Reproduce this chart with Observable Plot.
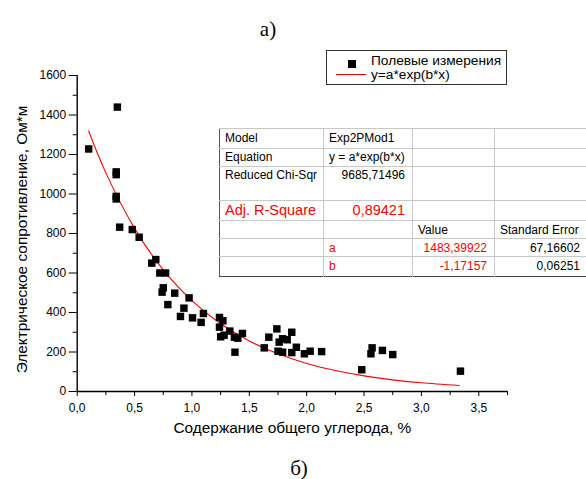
<!DOCTYPE html>
<html><head><meta charset="utf-8">
<script src="https://cdn.jsdelivr.net/npm/d3@7"></script>
<script src="https://cdn.jsdelivr.net/npm/@observablehq/plot@0.6"></script>
<style>
body{margin:0;background:#fff;}
#wrap{position:relative;width:586px;height:479px;overflow:hidden;font-family:"Liberation Sans",Arial,sans-serif;color:#000;}
#plot{position:absolute;left:0;top:40px;}
.cap{position:absolute;font-family:"Liberation Serif","Times New Roman",serif;font-size:21px;line-height:24px;transform:translateX(-50%);white-space:nowrap;}
#legend{position:absolute;left:326px;top:50px;width:179px;height:33px;border:1px solid #333;background:#fff;font-size:13.7px;}
#legend .row{position:absolute;left:44px;white-space:nowrap;}
#legend .sq{position:absolute;left:21px;top:9px;width:8px;height:8px;background:#000;}
#legend .ln{position:absolute;left:9px;top:23px;width:30px;height:0;border-top:1px solid #e00;}
#tbl{position:absolute;left:219px;top:128px;border-collapse:collapse;table-layout:fixed;background:#fff;font-size:12px;border-top:1.5px solid #555;border-left:1.5px solid #555;border-bottom:1.5px solid #444;}
#tbl td{border:1px solid #c8c8c8;padding:0 4px 0 5px;vertical-align:top;white-space:nowrap;overflow:hidden;}
#tbl tr:first-child td{border-top:none;}
#tbl tr:last-child td{border-bottom:none;}
#tbl td:first-child{border-left:none;}
.r{text-align:right;padding-right:7px!important;}
.red{color:#f00;}
</style></head><body><div id="wrap"></div>
<script>
// measured points: carbon content (%) and electrical resistivity (Ohm*m)
const carbon = [0.10,0.35,0.34,0.34,0.34,0.34,0.37,0.48,0.54,0.65,0.685,0.72,0.77,0.75,0.74,0.85,0.79,0.975,0.93,0.90,1.005,1.10,1.08,1.24,1.27,1.24,1.25,1.28,1.33,1.37,1.40,1.44,1.375,1.63,1.67,1.74,1.76,1.79,1.83,1.75,1.79,1.87,1.91,1.87,1.98,2.03,2.13,2.48,2.57,2.56,2.66,2.75,3.34];
const resistance = [1228,1440,1112,1098,988,975,832,820,781,650,668,600,600,525,503,498,440,474,422,380,373,395,350,375,358,326,277,285,306,275,270,294,199,221,275,317,250,267,262,204,199,300,224,197,191,204,202,110,221,191,208,187,103];
// fitted curve y=a*exp(b*x)
const fitX = [0.10,0.25,0.50,0.75,1.00,1.25,1.50,1.75,2.00,2.25,2.50,2.75,3.00,3.33];
const fitY = [1319,1107,826,616,460,343,256,191,142,106,79,59,44,30];
const xTicks = [0,0.5,1,1.5,2,2.5,3,3.5];
const xMinor = [0.25,0.75,1.25,1.75,2.25,2.75,3.25,3.75];
const yTicks = [0,200,400,600,800,1000,1200,1400,1600];
const yMinor = [100,300,500,700,900,1100,1300,1500];
const xLabel = "Содержание общего углерода, %";
const yLabel = "Электрическое сопротивление, Ом*м";
const legendLabels = ["Полевые измерения","y=a*exp(b*x)"];
const tableRows = [
  ["Model","Exp2PMod1","",""],
  ["Equation","y = a*exp(b*x)","",""],
  ["Reduced Chi-Sqr","9685,71496","",""],
  ["Adj. R-Square","0,89421","",""],
  ["","","Value","Standard Error"],
  ["","a","1483,39922","67,16602"],
  ["","b","-1,17157","0,06251"]
];

const pts = carbon.map((c,i)=>({x:c,y:resistance[i]}));
const fit = fitX.map((c,i)=>({x:c,y:fitY[i]}));
const fmtX = d => d.toFixed(1).replace(".",",");
const fmtY = d => String(d);

const chart = Plot.plot({
  width: 586, height: 400,
  marginLeft: 76.7, marginRight: 79, marginTop: 35, marginBottom: 49,
  style: {fontFamily: "'Liberation Sans', Arial, sans-serif", fontSize: "12px", color: "#000", background: "transparent"},
  x: {domain: [0, 3.75]},
  y: {domain: [0, 1600]},
  marks: [
    Plot.axisX(xTicks, {tickFormat: fmtX, tickSize: 5, tickPadding: 7, label: null, stroke: "#000", fontSize: 12}),
    Plot.axisX(xMinor, {text: null, tickSize: 4, label: null, stroke: "#000"}),
    Plot.axisY(yTicks, {tickFormat: fmtY, tickSize: 8, tickPadding: 3, label: null, stroke: "#000", fontSize: 12}),
    Plot.axisY(yMinor, {text: null, tickSize: 4, label: null, stroke: "#000"}),
    Plot.ruleX([0], {y1: 0, y2: 1600, stroke: "#000", strokeWidth: 1.4}),
    Plot.ruleY([0], {x1: 0, x2: 3.75, stroke: "#000", strokeWidth: 1.4}),
    Plot.line(fit, {x: "x", y: "y", stroke: "#f00", strokeWidth: 1.1, curve: "natural"}),
    Plot.dot(pts, {x: "x", y: "y", symbol: "square", r: 4.2, fill: "#000", stroke: "none"}),
    Plot.text([xLabel], {frameAnchor: "bottom", dy: 41, fontSize: 15.4, fill: "#000", textAnchor: "middle"}),
    Plot.text([yLabel], {frameAnchor: "left", dx: -55, dy: 6, rotate: -90, fontSize: 15.4, fill: "#000", textAnchor: "middle"})
  ]
});

const wrap = document.getElementById("wrap");
chart.id = "plot";
wrap.appendChild(chart);

function addCap(txt, left, top){
  const d = document.createElement("div");
  d.className = "cap"; d.textContent = txt;
  d.style.left = left + "px"; d.style.top = top + "px";
  wrap.appendChild(d);
}
addCap("а)", 268, 17);
addCap("б)", 299, 456);

// legend
const lg = document.createElement("div");
lg.id = "legend";
lg.innerHTML = `<div class="sq"></div><div class="row" style="top:2px">${legendLabels[0]}</div>
<div class="ln"></div><div class="row" style="top:16px">${legendLabels[1]}</div>`;
wrap.appendChild(lg);

// parameter table
const colW = [104, 89, 82, 93];
const rowH = [20, 18.4, 33.3, 20, 18.3, 18.4, 19.3];
const padTop = [1.5, 0.5, 1, 1, 2, 2, 2];
const tbl = document.createElement("table");
tbl.id = "tbl";
const cg = document.createElement("colgroup");
colW.forEach(w=>{const c=document.createElement("col"); c.style.width=w+"px"; cg.appendChild(c);});
tbl.appendChild(cg);
tbl.style.width = colW.reduce((a,b)=>a+b,0) + "px";
tableRows.forEach((row,ri)=>{
  const tr = document.createElement("tr");
  tr.style.height = rowH[ri] + "px";
  row.forEach((cell,ci)=>{
    const td = document.createElement("td");
    td.textContent = cell;
    td.style.paddingTop = padTop[ri] + "px";
    td.style.height = (rowH[ri]-padTop[ri]-1) + "px";
    const numeric = /^-?[0-9][0-9,]*$/.test(cell);
    if (numeric) td.className = "r";
    if (ci===3 && numeric) td.style.paddingRight = "5px";
    if (ri===3) { td.classList.add("red"); td.style.fontSize = "14.5px"; }
    if (ri>=5 && (ci===1 || ci===2)) td.classList.add("red");
    tr.appendChild(td);
  });
  tbl.appendChild(tr);
});
wrap.appendChild(tbl);
</script>
</body></html>
